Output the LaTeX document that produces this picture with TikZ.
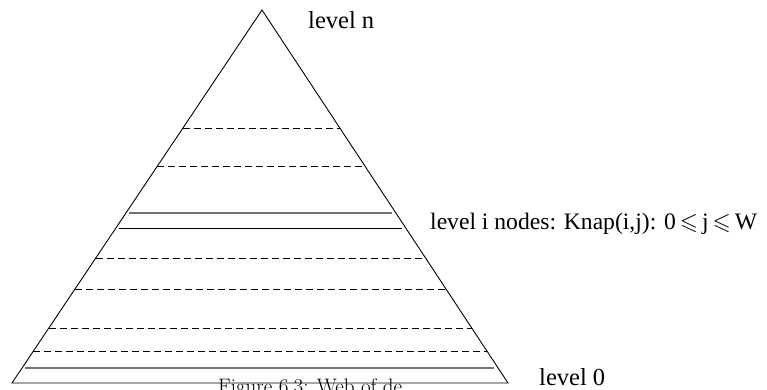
\documentclass[tikz,border=0pt]{standalone}
\usepackage{amssymb}
\usepackage{fontspec}
\newfontfamily\labelfont{Liberation Serif}
\usetikzlibrary{calc}

\tikzset{
  side/.style={draw=black, line width=0.9pt, line join=miter},
  cut/.style={draw=black, line width=0.9pt, dash pattern=on 7pt off 4pt},
  band/.style={draw=black, line width=1pt},
  bandgray/.style={draw=black!55, line width=1.6pt},
  lbl/.style={font=\labelfont\fontsize{24.5}{28}\selectfont, inner sep=0pt, anchor=base west},
  lblwide/.style={lbl, font=\labelfont\fontsize{23.6}{27}\selectfont},
  captiontext/.style={font=\fontsize{21}{24}\selectfont, inner sep=0pt, anchor=base west}
}

\begin{document}
\begin{tikzpicture}[x=1pt, y=-1pt]
  \useasboundingbox (0,0) rectangle (767,389);
  \clip (0,0) rectangle (767,389);

  % corners of the pyramid
  \coordinate (A) at (262,10);
  \coordinate (L) at (12,383);
  \coordinate (R) at (508,383);
  \draw[side] (A) -- (L) -- (R) -- cycle;

  % dashed levels
  \foreach \yy in {128,166,258,289,328,351} {
    \pgfmathsetmacro\lvl{(\yy-10)/373}
    \draw[cut] ($(A)!\lvl!(L)$) -- ($(A)!\lvl!(R)$);
  }
  % solid levels around level i and near level 0
  \foreach \yy/\st in {213/bandgray,368/bandgray,228/band} {
    \pgfmathsetmacro\lvl{(\yy-10)/373}
    \draw[\st] ($(A)!\lvl!(L)+(3,0)$) -- ($(A)!\lvl!(R)+(-4,0)$);
  }

  % labels
  \node[lbl] (ln) at (308,28) {level n};
  \node[lblwide] (li) at (430,229) {level i nodes: Knap(i,j): 0\,${\leqslant}$\,j\,${\leqslant}$\,W};
  \node[lbl] (l0) at (539,385) {level 0};
  \node[captiontext] (fig) at (218,393) {Figure 6.3: Web of de};
\end{tikzpicture}
\end{document}
